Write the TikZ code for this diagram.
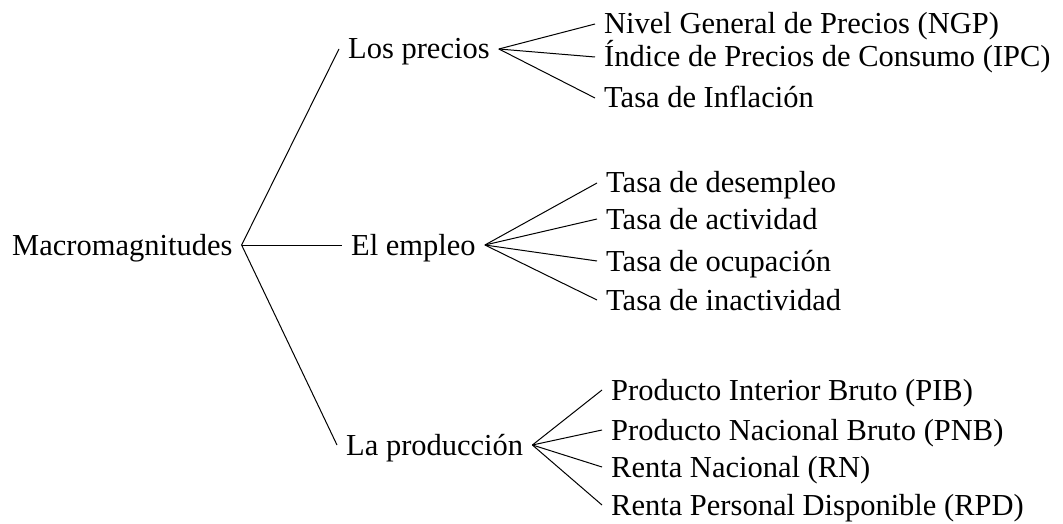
\documentclass[tikz,border=0pt]{standalone}
\usepackage{fontspec}
\setmainfont{Liberation Serif}
\tikzset {
  % text of every entry of the tree
  item/.style = {anchor=west, inner xsep=9pt, inner ysep=0pt,
    text height=20pt, text depth=0pt, font=\fontsize{30.5}{36}\selectfont},
  % lines between the entries
  branch/.style = {black, line width=1pt},
}
\begin{document}
\begin{tikzpicture}[x=1pt, y=-1pt]
      \useasboundingbox (0, 0) rectangle (1063, 524);

      \node[item] (m) at (3, 245) {Macromagnitudes};

      \node[item] (p) at (339, 49) {Los precios};
      \node[item] (e) at (342, 245) {El empleo};
      \node[item] (r) at (337, 445) {La producción};

      \draw [branch] (m.east) -- (p.west);
      \draw [branch] (m.east) -- (e.west);
      \draw [branch] (m.east) -- (r.west);

      \node[item] (p1) at (595, 24) {Nivel General de Precios (NGP)};
      \node[item] (p2) at (595, 57) {Índice de Precios de Consumo (IPC)};
      \node[item] (p3) at (595, 98) {Tasa de Inflación};

      \node[item] (e1) at (597, 183) {Tasa de desempleo};
      \node[item] (e2) at (597, 219) {Tasa de actividad};
      \node[item] (e3) at (597, 261) {Tasa de ocupación};
      \node[item] (e4) at (597, 300) {Tasa de inactividad};

      \node[item] (r1) at (602, 390) {Producto Interior Bruto (PIB)};
      \node[item] (r2) at (602, 430) {Producto Nacional Bruto (PNB)};
      \node[item] (r3) at (602, 467) {Renta Nacional (RN)};
      \node[item] (r4) at (602, 505) {Renta Personal Disponible (RPD)};

      \draw [branch] (p.east) -- (p1.west);
      \draw [branch] (p.east) -- (p2.west);
      \draw [branch] (p.east) -- (p3.west);

      \draw [branch] (e.east) -- (e1.west);
      \draw [branch] (e.east) -- (e2.west);
      \draw [branch] (e.east) -- (e3.west);
      \draw [branch] (e.east) -- (e4.west);

      \draw [branch] (r.east) -- (r1.west);
      \draw [branch] (r.east) -- (r2.west);
      \draw [branch] (r.east) -- (r3.west);
      \draw [branch] (r.east) -- (r4.west);
    \end{tikzpicture}
\end{document}
